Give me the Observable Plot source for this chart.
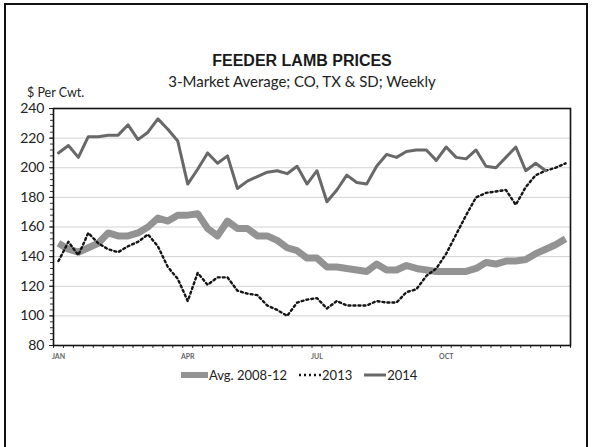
<!DOCTYPE html>
<html>
<head>
<meta charset="utf-8">
<script src="https://cdn.jsdelivr.net/npm/d3@7"></script>
<script src="https://cdn.jsdelivr.net/npm/@observablehq/plot@0.6"></script>
<style>
  html, body { margin: 0; padding: 0; background: #fff; }
  #wrap { position: relative; width: 594px; height: 447px; overflow: hidden; background: #fff; font-family: Lato, "Open Sans", sans-serif; }
  #border { position: absolute; left: 4px; top: 3px; width: 584px; height: 470px; border: 2px solid #111; box-sizing: border-box; }
  #chart { position: absolute; left: 0; top: 0; }
  .title { position: absolute; left: 0; width: 604px; text-align: center; color: #111; white-space: nowrap; }
  #t1 { top: 52px; font-family: "Liberation Sans", Arial, sans-serif; font-weight: bold; font-size: 16px; color: #1a1a1a; }
  #t2 { top: 72px; font-size: 15px; color: #222; }
  #unit { position: absolute; left: 27px; top: 85px; font-size: 12.5px; color: #222; white-space: nowrap; }
  #legend { position: absolute; left: 181px; top: 367px; display: flex; align-items: center; font-size: 13px; color: #222; white-space: nowrap; }
  #legend .item { display: flex; align-items: center; margin-right: 12px; }
  #legend svg { display: block; }
</style>
</head>
<body>
<div id="wrap">
  <div id="chart"></div>
  <div class="title" id="t1">FEEDER LAMB PRICES</div>
  <div class="title" id="t2">3-Market Average; CO, TX &amp; SD; Weekly</div>
  <div id="unit">$ Per Cwt.</div>
  <div id="legend"></div>
  <div id="border"></div>
</div>
<script>
// ---- data (weekly, $ per cwt) ----
const seriesNames = ["Avg. 2008-12", "2013", "2014"];
const avg2008_12 = [149,145,143,146,149,156,154,154,156,160,166,164,168,168,
                    169,159,154,164,159,159,154,154,151,146,144,139,139,133,
                    133,132,131,130,135,131,131,134,132,131,130,130,130,130,
                    132,136,135,137,137,138,142,145,148,152];
const y2013 = [137,150,141,156,149,145,143,147,150,155,147,133,125,110,
               129,121,126,126,117,115,114,107,104,100,109,111,112,105,
               110,107,107,107,110,109,109,116,118,127,132,142,155,168,
               180,183,184,185,175,187,195,198,200,203];
const y2014 = [210,215,207,221,221,222,222,229,219,224,233,226,218,189,
               199,210,203,208,186,191,194,197,198,196,201,189,198,177,
               185,195,190,189,201,209,207,211,212,212,205,214,207,206,
               212,201,200,207,214,198,203,198];
const monthLabels = ["JAN", "APR", "JUL", "OCT"];
const monthWeeks = [1, 14, 27, 40];
const yTicks = [80, 100, 120, 140, 160, 180, 200, 220, 240];
const yGrid = [100, 120, 140, 160, 180, 200, 220];

const toRows = (arr) => arr.map((v, i) => ({week: i + 1, value: v}));
const rowsAvg = toRows(avg2008_12);
const rows2013 = toRows(y2013);
const rows2014 = toRows(y2014);
const weekBounds = d3.range(0, avg2008_12.length + 1);
const minorY = d3.range(80, 241, 4);

const styles = {
  "Avg. 2008-12": {stroke: "#939393", strokeWidth: 7, dash: null},
  "2013": {stroke: "#151515", strokeWidth: 2.4, dash: "2,3"},
  "2014": {stroke: "#686868", strokeWidth: 3, dash: null}
};

const chart = Plot.plot({
  width: 594,
  height: 447,
  marginTop: 108,
  marginBottom: 102,
  marginLeft: 53,
  marginRight: 24,
  style: {fontFamily: "Lato, sans-serif", background: "transparent"},
  x: {type: "linear", domain: [0, avg2008_12.length], axis: null, label: null},
  y: {type: "linear", domain: [80, 240], axis: null, label: null},
  marks: [
    Plot.ruleY(yGrid, {stroke: "#d2d2d2", strokeWidth: 1}),
    Plot.axisY(minorY, {tickSize: 3, tickFormat: () => "", stroke: "#333", label: null}),
    Plot.axisY(yTicks, {tickSize: 4, tickPadding: 5, fontSize: 14, fill: "#222", stroke: "#222", label: null}),
    Plot.axisX(weekBounds, {tickSize: 3, tickFormat: () => "", stroke: "#333", label: null}),
    Plot.axisX(monthWeeks.map(w => w - 0.5), {tickSize: 0, tickPadding: 9, fontSize: 7, fontWeight: "bold", fill: "#666", label: null,
      tickFormat: (d) => monthLabels[monthWeeks.indexOf(d + 0.5)]}),
    Plot.lineY(rowsAvg, {x: d => d.week - 0.5, y: "value", stroke: styles["Avg. 2008-12"].stroke,
      strokeWidth: styles["Avg. 2008-12"].strokeWidth, strokeLinejoin: "round", strokeLinecap: "butt"}),
    Plot.lineY(rows2013, {x: d => d.week - 0.5, y: "value", stroke: styles["2013"].stroke,
      strokeWidth: styles["2013"].strokeWidth, strokeDasharray: styles["2013"].dash}),
    Plot.lineY(rows2014, {x: d => d.week - 0.5, y: "value", stroke: styles["2014"].stroke,
      strokeWidth: styles["2014"].strokeWidth, strokeLinejoin: "round"}),
    Plot.frame({stroke: "#111", strokeWidth: 1.6})
  ]
});
document.getElementById("chart").appendChild(chart);

// ---- legend ----
const legend = document.getElementById("legend");
const swatchW = {"Avg. 2008-12": 27, "2013": 22, "2014": 22};
seriesNames.forEach(name => {
  const s = styles[name];
  const item = document.createElement("div");
  item.className = "item";
  const w = swatchW[name];
  item.innerHTML = `<svg width="${w}" height="10"><line x1="0" x2="${w}" y1="5" y2="5" stroke="${s.stroke}" stroke-width="${name === "Avg. 2008-12" ? 6 : s.strokeWidth}" ${s.dash ? `stroke-dasharray="${s.dash}"` : ""} stroke-linecap="${name === "Avg. 2008-12" ? "round" : "butt"}"/></svg><span style="margin-left:1px">${name}</span>`;
  legend.appendChild(item);
});
</script>
</body>
</html>
